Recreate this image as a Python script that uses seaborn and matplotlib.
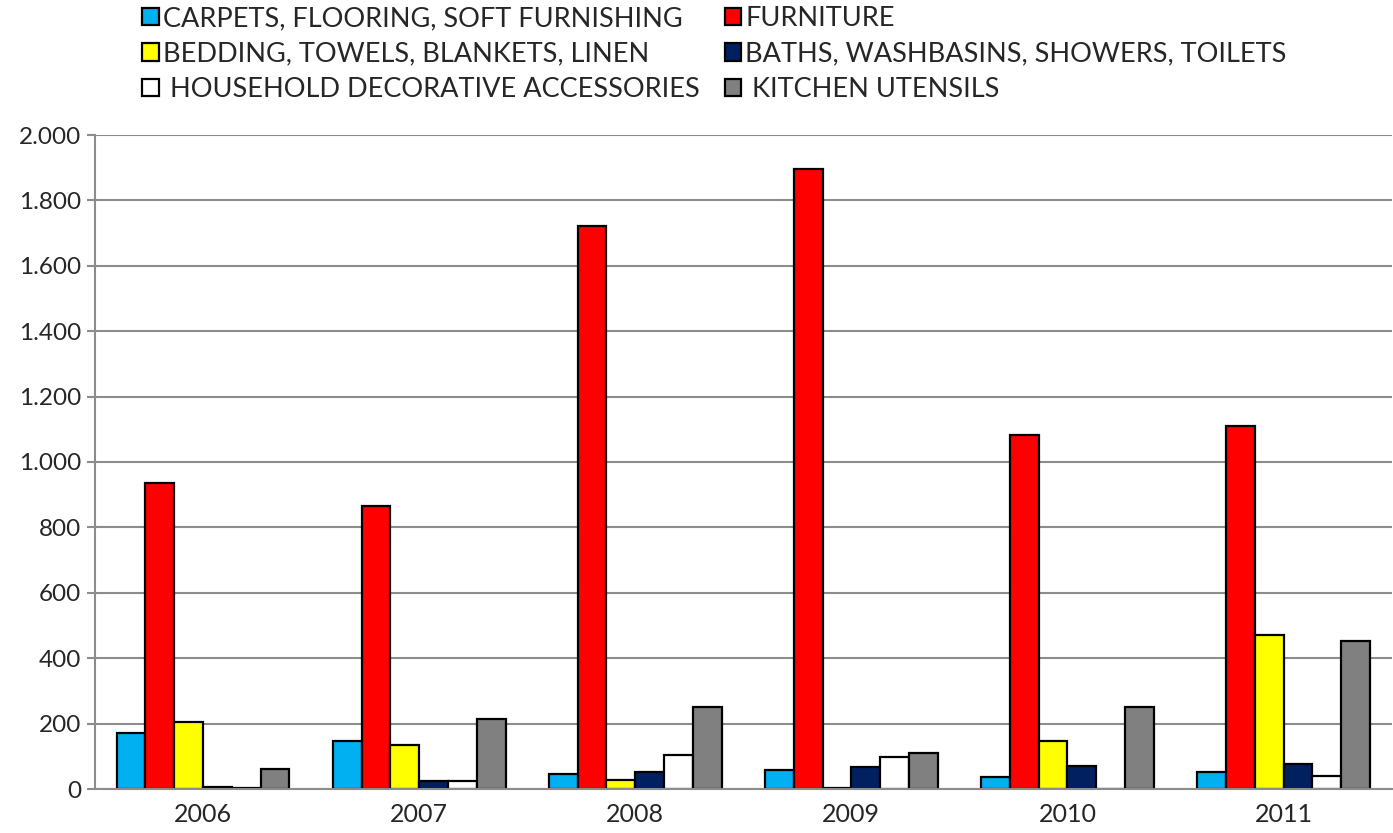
import pandas as pd
import numpy as np
import matplotlib.pyplot as plt
import seaborn as sns
from matplotlib.ticker import FuncFormatter

# data
years = ["2006", "2007", "2008", "2009", "2010", "2011"]
carpets = [172, 146, 45, 57, 37, 53]
furniture = [937, 865, 1723, 1895, 1083, 1110]
bedding = [205, 134, 29, 2, 148, 472]
baths = [6, 25, 51, 67, 71, 75]
household = [4, 23, 103, 98, 0, 39]
kitchen = [60, 214, 250, 111, 252, 454]

series = ["CARPETS, FLOORING, SOFT FURNISHING", "FURNITURE",
          "BEDDING, TOWELS, BLANKETS, LINEN", "BATHS, WASHBASINS, SHOWERS, TOILETS",
          " HOUSEHOLD DECORATIVE ACCESSORIES", " KITCHEN UTENSILS"]
colors = ["#00B0F0", "#FF0000", "#FFFF00", "#002060", "#FFFFFF", "#808080"]

values = [carpets, furniture, bedding, baths, household, kitchen]
rows = []
for s, vals in zip(series, values):
    for y, v in zip(years, vals):
        rows.append({"year": y, "series": s, "value": v})
df = pd.DataFrame(rows)

sns.set_style("white")
plt.rcParams['font.family'] = ['Lato', 'DejaVu Sans']

fig = plt.figure(figsize=(13.93, 8.33), dpi=100)
ax = fig.add_axes([95/1393, 1 - 789/833, 1 - 95/1393 - 0.001, (789-135)/833])

sns.barplot(data=df, x="year", y="value", hue="series", hue_order=series,
            palette=colors, width=0.8, edgecolor="black", linewidth=1.6,
            saturation=1, errorbar=None, ax=ax)

ax.set_ylim(0, 2000)
ax.set_xlim(-0.5, 5.5)
ax.set_yticks(np.arange(0, 2001, 200))
ax.yaxis.set_major_formatter(FuncFormatter(lambda v, p: f"{int(v):,}".replace(",", ".")))
ax.grid(axis="y", color="#8c8c8c", linewidth=1.5)
ax.set_axisbelow(True)
ax.set_xlabel("")
ax.set_ylabel("")

for side in ["top", "right"]:
    ax.spines[side].set_visible(False)
for side in ["left", "bottom"]:
    ax.spines[side].set_color("#8c8c8c")
    ax.spines[side].set_linewidth(1.5)

ax.tick_params(axis="x", which="major", length=0, labelsize=18, pad=10)
ax.set_xticks(np.arange(-0.5, 6, 1), minor=True)
ax.tick_params(axis="x", which="minor", length=8, width=1.5, color="#8c8c8c", direction="out")
ax.tick_params(axis="y", length=6, width=1.5, color="#8c8c8c", labelsize=17.5, pad=4, left=True)

handles, labels = ax.get_legend_handles_labels()
ax.legend_.remove()
order = [0, 2, 4, 1, 3, 5]
fig.legend([handles[i] for i in order], [labels[i] for i in order],
           loc="upper left", bbox_to_anchor=(118/1393, 1.022), ncol=2,
           frameon=False, fontsize=19.5, handlelength=0.6, handleheight=0.6,
           handletextpad=0.15, columnspacing=0.95, labelspacing=0.39)

fig.savefig("out.png", dpi=100)
